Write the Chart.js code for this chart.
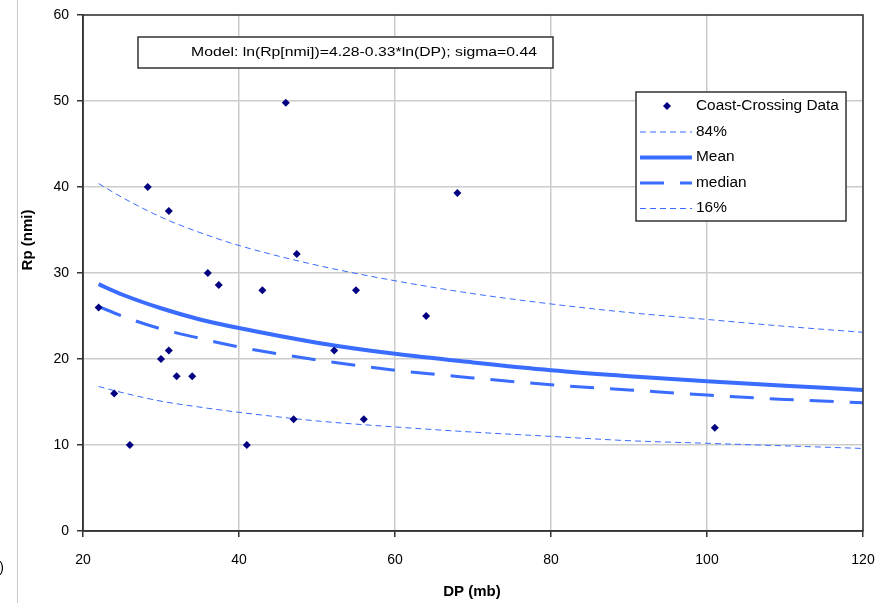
<!DOCTYPE html>
<html>
<head>
<meta charset="utf-8">
<script src="https://cdn.jsdelivr.net/npm/chart.js@4"></script>
<style>
    html, body { margin: 0; padding: 0; background: #fff; }
    #wrap { position: relative; width: 876px; height: 603px; }
</style>
</head>
<body>
<div id="wrap"><canvas id="rpChart" width="876" height="603"></canvas></div>
<script>
// observed coast-crossing storms
const dpObs = [22, 24, 26, 28.3, 31, 30, 31, 32, 34, 36, 37.4, 41, 43, 46, 47, 47.4, 52.2, 55, 56, 64, 68, 101];
const rpObs = [26, 16, 10, 40, 37.2, 20, 21, 18, 18, 30, 28.6, 10, 28, 49.8, 13, 32.2, 21, 28, 13, 25, 39.3, 12];

// model curves, read at these DP values
const dpCurve = [22, 25, 30, 35, 40, 50, 60, 70, 80, 90, 100, 110, 120];
const rp84 = [40.4, 38.8, 36.5, 34.7, 33.2, 30.9, 29.1, 27.6, 26.4, 25.4, 24.6, 23.8, 23.1];
const rpMean = [28.7, 27.5, 25.9, 24.6, 23.6, 21.9, 20.6, 19.6, 18.7, 18.0, 17.4, 16.9, 16.4];
const rpMedian = [26.1, 25.0, 23.5, 22.4, 21.4, 19.9, 18.7, 17.8, 17.0, 16.4, 15.8, 15.3, 14.9];
const rp16 = [16.8, 16.1, 15.1, 14.4, 13.8, 12.8, 12.1, 11.5, 11.0, 10.5, 10.2, 9.9, 9.6];

const xTicks = [20, 40, 60, 80, 100, 120];
const yTicks = [0, 10, 20, 30, 40, 50, 60];

const modelText = 'Model: ln(Rp[nmi])=4.28-0.33*ln(DP); sigma=0.44';
const lineBlue = '#3a6cff';
const dotNavy = '#000080';
const font = '"Liberation Sans", Arial, sans-serif';

function pts(xs, ys) {
    return xs.map((x, i) => ({ x: x, y: ys[i] }));
}

const curveDatasets = [
    { label: '84%', data: pts(dpCurve, rp84), borderWidth: 1, borderDash: [6, 4] },
    { label: 'Mean', data: pts(dpCurve, rpMean), borderWidth: 4, borderDash: [] },
    { label: 'median', data: pts(dpCurve, rpMedian), borderWidth: 3, borderDash: [24, 16] },
    { label: '16%', data: pts(dpCurve, rp16), borderWidth: 1, borderDash: [6, 4] }
].map(d => Object.assign(d, {
    showLine: true,
    borderColor: lineBlue,
    backgroundColor: lineBlue,
    pointRadius: 0,
    cubicInterpolationMode: 'monotone',
    order: 2
}));

// text drawn a bit wider, the way the original renders it
function wideText(ctx, text, x, y, width) {
    const w = ctx.measureText(text).width;
    ctx.save();
    ctx.translate(x, y);
    ctx.scale(width / w, 1);
    ctx.fillText(text, 0, 0);
    ctx.restore();
}

// legend, model box and axis titles drawn on top
const extrasPlugin = {
    id: 'extras',
    afterDraw(chart) {
        const ctx = chart.ctx;
        const area = chart.chartArea;
        ctx.save();

        // frame on top and right
        ctx.strokeStyle = '#333';
        ctx.lineWidth = 1.5;
        ctx.strokeRect(area.left, area.top, area.right - area.left, area.bottom - area.top);

        // stray edge on the left of the image
        ctx.strokeStyle = '#c8c8c8';
        ctx.lineWidth = 1;
        ctx.beginPath();
        ctx.moveTo(17.5, 0);
        ctx.lineTo(17.5, 603);
        ctx.stroke();
        ctx.fillStyle = '#000';
        ctx.font = '14px ' + font;
        ctx.textBaseline = 'middle';
        ctx.textAlign = 'right';
        ctx.fillText(')', 4, 568);

        // model box
        ctx.fillStyle = '#fff';
        ctx.fillRect(138, 37, 415, 31);
        ctx.strokeStyle = '#333';
        ctx.lineWidth = 1.5;
        ctx.strokeRect(138, 37, 415, 31);
        ctx.fillStyle = '#000';
        ctx.font = '13px ' + font;
        ctx.textAlign = 'center';
        wideText(ctx, modelText, 364, 52, 346);

        // legend
        ctx.fillStyle = '#fff';
        ctx.fillRect(636, 92, 210, 129);
        ctx.strokeStyle = '#333';
        ctx.lineWidth = 1.5;
        ctx.strokeRect(636, 92, 210, 129);
        const rowY = [106, 132, 157.5, 183, 208.5];
        const labels = ['Coast-Crossing Data'].concat(curveDatasets.map(d => d.label));
        labels.forEach((lab, i) => {
            const y = rowY[i];
            if (i === 0) {
                ctx.fillStyle = dotNavy;
                ctx.beginPath();
                ctx.moveTo(667, y - 4);
                ctx.lineTo(671, y);
                ctx.lineTo(667, y + 4);
                ctx.lineTo(663, y);
                ctx.closePath();
                ctx.fill();
            } else {
                const d = curveDatasets[i - 1];
                ctx.strokeStyle = lineBlue;
                ctx.lineWidth = d.borderWidth;
                ctx.setLineDash(d.borderDash);
                ctx.beginPath();
                ctx.moveTo(640, y);
                ctx.lineTo(692, y);
                ctx.stroke();
                ctx.setLineDash([]);
            }
            ctx.fillStyle = '#000';
            ctx.font = '14px ' + font;
            ctx.textAlign = 'left';
            const w = ctx.measureText(lab).width;
            wideText(ctx, lab, 696, y, w * 1.1);
        });

        // axis titles
        ctx.font = 'bold 15px ' + font;
        ctx.fillStyle = '#000';
        ctx.textAlign = 'center';
        ctx.fillText('DP (mb)', 472, 592);
        ctx.save();
        ctx.translate(28, 240);
        ctx.rotate(-Math.PI / 2);
        ctx.fillText('Rp (nmi)', 0, 0);
        ctx.restore();

        ctx.restore();
    }
};

const ctx = document.getElementById('rpChart').getContext('2d');
const rpChart = new Chart(ctx, {
    type: 'scatter',
    data: {
        datasets: [{
            label: 'Coast-Crossing Data',
            data: pts(dpObs, rpObs),
            pointStyle: 'rectRot',
            pointRadius: 4,
            pointBackgroundColor: dotNavy,
            pointBorderColor: dotNavy,
            pointBorderWidth: 0,
            order: 1
        }].concat(curveDatasets)
    },
    options: {
        responsive: false,
        animation: false,
        layout: { padding: { top: 15, right: 13, left: 0, bottom: 0 } },
        plugins: {
            legend: { display: false },
            tooltip: { enabled: false }
        },
        scales: {
            x: {
                type: 'linear',
                min: 20,
                max: 120,
                afterBuildTicks(scale) { scale.ticks = xTicks.map(v => ({ value: v })); },
                afterFit(scale) {
                    scale.height = 72;
                    scale.paddingLeft = 0;
                    scale.paddingRight = 0;
                },
                grid: { color: '#cccccc', lineWidth: 1.5, tickLength: 6, tickColor: '#333' },
                border: { color: '#333', width: 1.5 },
                ticks: { color: '#000', font: { family: font, size: 14 }, padding: 15, maxRotation: 0 }
            },
            y: {
                type: 'linear',
                min: 0,
                max: 60,
                afterBuildTicks(scale) { scale.ticks = yTicks.map(v => ({ value: v })); },
                afterFit(scale) {
                    scale.width = 83;
                    scale.paddingTop = 0;
                    scale.paddingBottom = 0;
                },
                grid: { color: '#cccccc', lineWidth: 1.5, tickLength: 6, tickColor: '#333' },
                border: { color: '#333', width: 1.5 },
                ticks: { color: '#000', font: { family: font, size: 14 }, padding: 8 }
            }
        }
    },
    plugins: [extrasPlugin]
});
</script>
</body>
</html>
